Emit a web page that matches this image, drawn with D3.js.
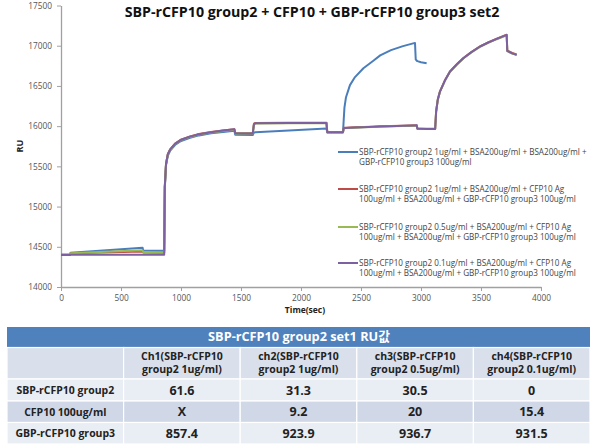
<!DOCTYPE html>
<html><head><meta charset="utf-8">
<script src="https://cdn.jsdelivr.net/npm/d3@7"></script>
<style>
html,body{margin:0;padding:0;background:#fff;}
svg{display:block;}
text{font-family:"Open Sans","Noto Sans CJK KR",sans-serif;}
</style></head>
<body>
<svg id="c" width="592" height="447"></svg>
<script>
// ---------- DATA ----------
const chartTitle = "SBP-rCFP10 group2 + CFP10 + GBP-rCFP10 group3 set2";
const xLabel = "Time(sec)";
const yLabel = "RU";
const xTicks = [0, 500, 1000, 1500, 2000, 2500, 3000, 3500, 4000];
const yTicks = [14000, 14500, 15000, 15500, 16000, 16500, 17000, 17500];

const times = [0, 75, 80, 680, 685, 855, 860, 865, 875, 890,
  910, 950, 1000, 1075, 1150, 1250, 1350, 1445, 1452, 1598,
  1608, 1620, 1900, 2212, 2219, 2350, 2356, 2362, 2375, 2408,
  2450, 2520, 2600, 2660, 2750, 2850, 2950, 2956, 2964, 2970,
  3000, 3047, 3118, 3126, 3140, 3158, 3200, 3242, 3300, 3353,
  3420, 3492, 3560, 3631, 3714, 3719, 3760, 3797];

const ruBlue = [14400, 14400, 14425, 14488, 14455, 14452, 14452, 15230, 15510, 15630,
  15695, 15765, 15815, 15855, 15885, 15910, 15928, 15943, 15892, 15890,
  15922, 15925, 15945, 15972, 15920, 15922, 16080, 16230, 16360, 16510,
  16610, 16720, 16810, 16880, 16945, 16995, 17035, 16830, 16815, 16808,
  16795, 16782, null, null, null, null, null, null, null, null,
  null, null, null, null, null, null, null, null];

const ruRed = [14400, 14400, 14420, 14440, 14428, 14426, 14426, 15250, 15530, 15650,
  15712, 15782, 15832, 15872, 15902, 15927, 15947, 15962, 15914, 15912,
  16030, 16040, 16042, 16043, 15927, 15927, 15977, 15979, 15980, 15982,
  15985, 15989, 15994, 15998, 16002, 16006, 16010, 16010, 16012, 15970,
  15969, 15968, 15967, 16182, 16332, 16432, 16572, 16681, 16772, 16847,
  16922, 16992, 17042, 17087, 17136, 16940, 16910, 16890];

const ruGreen = [14400, 14400, 14420, 14458, 14432, 14430, 14430, 15245, 15525, 15645,
  15706, 15776, 15826, 15866, 15896, 15921, 15941, 15956, 15910, 15908,
  16022, 16032, 16035, 16037, 15923, 15923, 15973, 15975, 15976, 15978,
  15981, 15985, 15990, 15994, 15998, 16002, 16006, 16006, 16008, 15966,
  15965, 15964, 15963, 16176, 16326, 16426, 16566, 16675, 16766, 16841,
  16916, 16986, 17036, 17081, 17130, 16932, 16902, 16884];

const ruPurple = [14398, 14398, 14400, 14402, 14400, 14400, 14400, 15250, 15530, 15650,
  15710, 15780, 15830, 15870, 15900, 15925, 15945, 15960, 15912, 15910,
  16025, 16035, 16038, 16040, 15925, 15925, 15975, 15977, 15978, 15980,
  15983, 15987, 15992, 15996, 16000, 16004, 16008, 16008, 16010, 15968,
  15967, 15966, 15965, 16180, 16330, 16430, 16570, 16679, 16770, 16845,
  16920, 16990, 17040, 17085, 17134, 16935, 16905, 16886];

const seriesNames = [
  ["SBP-rCFP10 group2 1ug/ml + BSA200ug/ml + BSA200ug/ml +", "GBP-rCFP10 group3 100ug/ml"],
  ["SBP-rCFP10 group2 1ug/ml + BSA200ug/ml + CFP10 Ag", "100ug/ml + BSA200ug/ml + GBP-rCFP10 group3 100ug/ml"],
  ["SBP-rCFP10 group2 0.5ug/ml + BSA200ug/ml + CFP10 Ag", "100ug/ml + BSA200ug/ml + GBP-rCFP10 group3 100ug/ml"],
  ["SBP-rCFP10 group2 0.1ug/ml + BSA200ug/ml + CFP10 Ag", "100ug/ml + BSA200ug/ml + GBP-rCFP10 group3 100ug/ml"]
];
const seriesValues = [ruBlue, ruRed, ruGreen, ruPurple];
const seriesColors = ["#4A7EBB", "#BE4B48", "#98B954", "#7D60A0"];

const tableTitle = "SBP-rCFP10 group2 set1 RU값";
const tableColumns = [
  ["", ""],
  ["Ch1(SBP-rCFP10", "group2 1ug/ml)"],
  ["ch2(SBP-rCFP10", "group2 1ug/ml)"],
  ["ch3(SBP-rCFP10", "group2 0.5ug/ml)"],
  ["ch4(SBP-rCFP10", "group2 0.1ug/ml)"]
];
const tableRowLabels = ["SBP-rCFP10 group2", "CFP10 100ug/ml", "GBP-rCFP10 group3"];
const tableRow1 = ["61.6", "31.3", "30.5", "0"];
const tableRow2 = ["X", "9.2", "20", "15.4"];
const tableRow3 = ["857.4", "923.9", "936.7", "931.5"];
const tableValues = [tableRow1, tableRow2, tableRow3];

// ---------- DRAW ----------
const svg = d3.select("#c");
const plot = {left: 61, right: 541, top: 5.5, bottom: 287};
const x = d3.scaleLinear().domain([0, 4000]).range([plot.left, plot.right]);
const y = d3.scaleLinear().domain([14000, 17500]).range([plot.bottom, plot.top]);

function fit(sel, target) {
  const w = sel.node().getComputedTextLength();
  const fs = parseFloat(sel.attr("font-size"));
  sel.attr("font-size", fs * target / w);
}

// axes
const gx = svg.append("g").attr("transform", `translate(0,${plot.bottom})`)
  .call(d3.axisBottom(x).tickValues(xTicks).tickSize(4).tickSizeOuter(0).tickPadding(4).tickFormat(d3.format("d")));
const gy = svg.append("g").attr("transform", `translate(${plot.left},0)`)
  .call(d3.axisLeft(y).tickValues(yTicks).tickSize(4).tickSizeOuter(0).tickPadding(5).tickFormat(d3.format("d")));
[gx, gy].forEach(g => {
  g.select(".domain").attr("stroke", "#a0a0a0").attr("stroke-width", 1.3);
  g.selectAll(".tick line").attr("stroke", "#a0a0a0");
  g.selectAll(".tick text").attr("fill", "#555").attr("font-size", 8.3)
    .attr("font-family", "'Liberation Sans', Arial, sans-serif");
});

// lines
const line = d3.line()
  .defined(d => d[1] !== null)
  .x(d => x(d[0])).y(d => y(d[1]));
seriesValues.forEach((vals, i) => {
  const pts = times.map((t, k) => [t, vals[k]]);
  svg.append("path").datum(pts)
    .attr("fill", "none").attr("stroke", seriesColors[i])
    .attr("stroke-width", 2).attr("stroke-linejoin", "round")
    .attr("d", line);
});

// title
const tt = svg.append("text").attr("x", 312).attr("y", 16.5)
  .attr("text-anchor", "middle").attr("font-weight", "bold").attr("font-size", 14)
  .attr("fill", "#111").text(chartTitle);
fit(tt, 375);

// axis labels
svg.append("text").attr("transform", "translate(23,146) rotate(-90)")
  .attr("text-anchor", "middle").attr("font-weight", "bold").attr("font-size", 9)
  .attr("fill", "#222").text(yLabel);
svg.append("text").attr("x", 305).attr("y", 313)
  .attr("text-anchor", "middle").attr("font-weight", "bold").attr("font-size", 8.5)
  .attr("fill", "#222").text(xLabel);

// legend
const legendY = [152, 189, 227, 263];
let legendFs = null;
seriesNames.forEach((nm, i) => {
  const ly = legendY[i];
  svg.append("line").attr("x1", 338).attr("x2", 358).attr("y1", ly).attr("y2", ly)
    .attr("stroke", seriesColors[i]).attr("stroke-width", 2);
  nm.forEach((ln, j) => {
    const t = svg.append("text").attr("x", 359).attr("y", ly + 3 + j * 9.8)
      .attr("font-size", 7.5).attr("fill", "#444").text(ln);
    if (i === 0 && j === 0) { fit(t, 228); legendFs = t.attr("font-size"); }
    else t.attr("font-size", legendFs);
  });
});

// table
const tX0 = 7, tX1 = 590;
const colW = (tX1 - tX0) / 5;
svg.append("rect").attr("x", tX0).attr("y", 327).attr("width", tX1 - tX0).attr("height", 20.5)
  .attr("fill", "#4F81BD");
const th = svg.append("text").attr("x", 299).attr("y", 341.3).attr("text-anchor", "middle")
  .attr("font-weight", "bold").attr("font-size", 12).attr("fill", "#fff").text(tableTitle);
fit(th, 182);

const rowTops = [347.5, 379, 401, 422.5];
const rowBots = [379, 401, 422.5, 444];
const rowFill = ["#D9E0EC", "#E9EDF4", "#D0D8E8", "#E9EDF4"];
rowTops.forEach((top, r) => {
  for (let c = 0; c < 5; c++) {
    svg.append("rect").attr("x", tX0 + c * colW).attr("y", top)
      .attr("width", colW).attr("height", rowBots[r] - top)
      .attr("fill", rowFill[r]).attr("stroke", "#fff").attr("stroke-width", 1.2);
  }
});
// column headers
let chFs = null;
tableColumns.forEach((lines, c) => {
  lines.forEach((ln, j) => {
    if (!ln) return;
    const t = svg.append("text").attr("x", tX0 + (c + 0.5) * colW).attr("y", 360 + j * 13)
      .attr("text-anchor", "middle").attr("font-weight", "bold").attr("font-size", 10.5)
      .attr("fill", "#222").text(ln);
    if (chFs === null) { fit(t, 82); chFs = t.attr("font-size"); } else t.attr("font-size", chFs);
  });
});
// row labels + values
let rlFs = null;
tableRowLabels.forEach((lab, r) => {
  const cy = (rowTops[r + 1] + rowBots[r + 1]) / 2;
  const t = svg.append("text").attr("x", tX0 + 0.5 * colW).attr("y", cy + 4)
    .attr("text-anchor", "middle").attr("font-weight", "bold").attr("font-size", 10.5)
    .attr("fill", "#222").text(lab);
  if (rlFs === null) { fit(t, 98); rlFs = t.attr("font-size"); } else t.attr("font-size", rlFs);
  tableValues[r].forEach((v, c) => {
    svg.append("text").attr("x", tX0 + (c + 1.5) * colW).attr("y", cy + 4.5)
      .attr("text-anchor", "middle").attr("font-weight", "bold").attr("font-size", 12.5)
      .attr("fill", "#222").text(v);
  });
});
</script>
</body></html>
